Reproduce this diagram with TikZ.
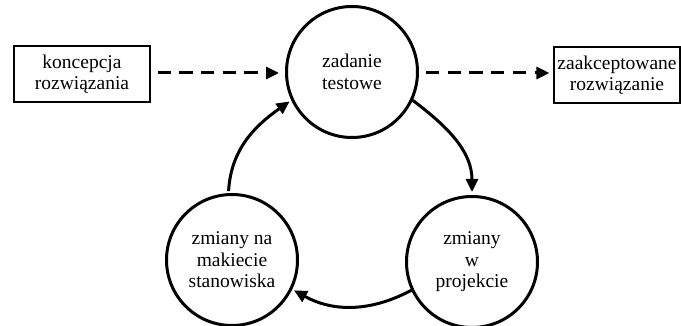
\documentclass[tikz,border=0pt]{standalone}
\usepackage{fontspec}
\setmainfont{Liberation Serif}
\usetikzlibrary{arrows.meta}
\begin{document}
\begin{tikzpicture}[x=1pt,y=-1pt,
  every node/.style={font=\fontsize{19.5}{21.5}\selectfont, align=center},
  stage/.style={circle, draw, line width=3pt, minimum size=131pt, inner sep=0pt},
  endbox/.style={rectangle, draw, line width=1.1pt, minimum height=56pt, inner sep=0pt},
  flow/.style={line width=3pt, -{Triangle[length=13pt,width=12pt]}},
  dashflow/.style={flow, dash pattern=on 13.3pt off 8.4pt}
]
\useasboundingbox (0,0) rectangle (681,326);
\node[stage] (top) at (352,72) {zadanie\\testowe};
\node[stage] (bl) at (232,260) {zmiany na\\makiecie\\stanowiska};
\node[stage] (br) at (472,262) {zmiany\\w\\projekcie};
\node[endbox, minimum width=136pt] (kon) at (82,74) {koncepcja\\rozwiązania};
\node[endbox, minimum width=126pt] (zaak) at (617,75) {zaakceptowane\\rozwiązanie};

\draw[dashflow, shorten <=7pt, shorten >=6pt] (kon.east |- 0,73) -- (top.west |- 0,73);
\draw[dashflow, shorten <=7pt, shorten >=4pt] (top.east |- 0,73) -- (zaak.west |- 0,73);

\draw[flow, shorten >=3pt] (top.-25) to[out=-37, in=90] (br.90);
\draw[flow, shorten >=2pt] (br.205) to[out=208, in=-29] (bl.-26);
\draw[flow, shorten <=2pt, shorten >=2pt] (bl.93) to[out=87, in=215] (top.205);
\end{tikzpicture}
\end{document}
